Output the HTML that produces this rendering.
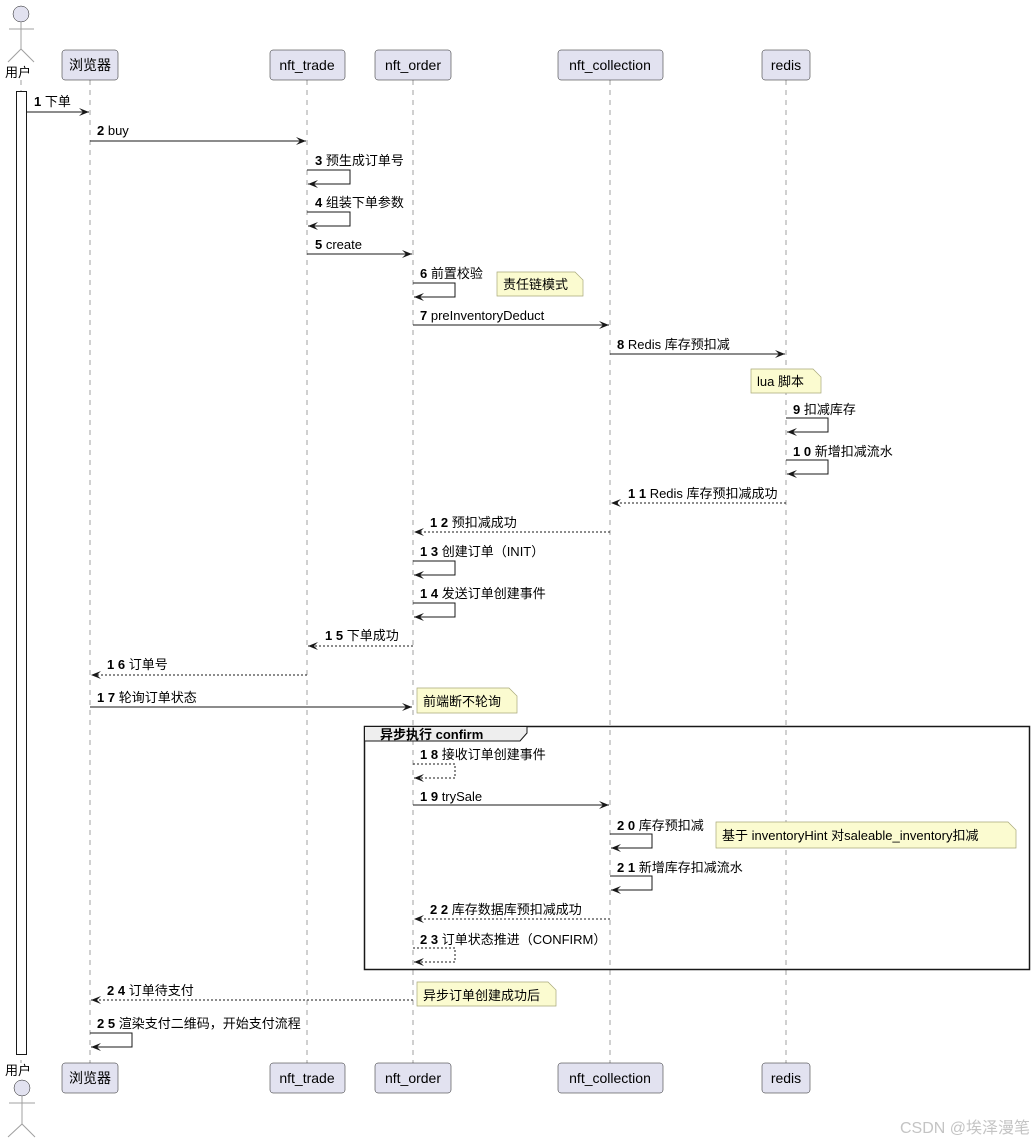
<!DOCTYPE html>
<html><head><meta charset="utf-8"><style>
html,body{margin:0;padding:0;background:#fff;}
svg{display:block;font-family:"Liberation Sans","Noto Sans CJK SC",sans-serif;}
</style></head><body>
<svg width="1036" height="1144" viewBox="0 0 1036 1144" xmlns="http://www.w3.org/2000/svg">
<defs>
<marker id="a" markerUnits="userSpaceOnUse" markerWidth="11" markerHeight="9" refX="10" refY="4" orient="auto"><path d="M0,0 L10,4 L0,8 L4,4 Z" fill="#181818"/></marker>
</defs>
<!-- lifelines -->
<g stroke="#a0a0a0" stroke-dasharray="5,5" stroke-width="1">
<line x1="90" y1="80" x2="90" y2="1063"/>
<line x1="307" y1="80" x2="307" y2="1063"/>
<line x1="413" y1="80" x2="413" y2="1063"/>
<line x1="610" y1="80" x2="610" y2="1063"/>
<line x1="786" y1="80" x2="786" y2="1063"/>
<line x1="21" y1="80" x2="21" y2="1063"/>
</g>
<!-- frame -->
<rect x="364.5" y="726.5" width="665" height="243" fill="none" stroke="#181818" stroke-width="1.5"/>
<path d="M364.5,726.5 H527 V733 L520,741 H364.5 Z" fill="#eee" stroke="#181818" stroke-width="1"/>
<text x="380" y="739" font-size="13" font-weight="bold" fill="#000">异步执行 confirm</text>
<!-- activation -->
<rect x="16.5" y="91.5" width="10" height="963" fill="#fff" stroke="#181818"/>
<!-- actors -->
<g stroke="#a0a0a0" fill="none" stroke-width="1">
<circle cx="21" cy="14" r="8" fill="#e2e2f0" stroke="#181818" stroke-width="0.5"/>
<line x1="21" y1="22" x2="21" y2="49"/><line x1="9" y1="29" x2="34" y2="29"/>
<path d="M8,62 L21,49 L34,62"/>
<circle cx="22" cy="1088" r="8" fill="#e2e2f0" stroke="#181818" stroke-width="0.5"/>
<line x1="22" y1="1096" x2="22" y2="1124"/><line x1="9" y1="1103" x2="35" y2="1103"/>
<path d="M8,1137 L22,1124 L35,1137"/>
</g>
<g font-size="13" fill="#000">
<text x="5" y="77">用户</text>
<text x="5" y="1075">用户</text>
</g>
<!-- participants -->
<g fill="#e2e2f0" stroke="#181818" stroke-width="0.5">
<rect x="62" y="50" width="56" height="30" rx="3"/>
<rect x="270" y="50" width="75" height="30" rx="3"/>
<rect x="375" y="50" width="76" height="30" rx="3"/>
<rect x="558" y="50" width="105" height="30" rx="3"/>
<rect x="762" y="50" width="48" height="30" rx="3"/>
<rect x="62" y="1063" width="56" height="30" rx="3"/>
<rect x="270" y="1063" width="75" height="30" rx="3"/>
<rect x="375" y="1063" width="76" height="30" rx="3"/>
<rect x="558" y="1063" width="105" height="30" rx="3"/>
<rect x="762" y="1063" width="48" height="30" rx="3"/>
</g>
<g font-size="14" fill="#000" text-anchor="middle">
<text x="90" y="70">浏览器</text><text x="307" y="70">nft_trade</text><text x="413" y="70">nft_order</text><text x="610" y="70">nft_collection</text><text x="786" y="70">redis</text>
<text x="90" y="1083">浏览器</text><text x="307" y="1083">nft_trade</text><text x="413" y="1083">nft_order</text><text x="610" y="1083">nft_collection</text><text x="786" y="1083">redis</text>
</g>
<!-- notes -->
<g fill="#fbfbd0" stroke="#a8a87a" stroke-width="0.7">
<path d="M497,272 H575 L583,280 V296 H497 Z"/>
<path d="M751,369 H813 L821,377 V393 H751 Z"/>
<path d="M417,688 H509 L517,696 V713 H417 Z"/>
<path d="M716,822 H1008 L1016,830 V848 H716 Z"/>
<path d="M417,982 H548 L556,990 V1006 H417 Z"/>
</g>
<g font-size="13" fill="#000">
<text x="503" y="289">责任链模式</text>
<text x="757" y="386">lua 脚本</text>
<text x="423" y="706">前端断不轮询</text>
<text x="722" y="840">基于 inventoryHint 对saleable_inventory扣减</text>
<text x="423" y="1000">异步订单创建成功后</text>
</g>
<!-- messages -->
<g stroke="#181818" stroke-width="1" fill="none" marker-end="url(#a)">
<line x1="27" y1="112" x2="89" y2="112"/>
<line x1="90" y1="141" x2="306" y2="141"/>
<path d="M307,170 H350 V184 H308"/>
<path d="M307,212 H350 V226 H308"/>
<line x1="307" y1="254" x2="412" y2="254"/>
<path d="M413,283 H455 V297 H414"/>
<line x1="413" y1="325" x2="609" y2="325"/>
<line x1="610" y1="354" x2="785" y2="354"/>
<path d="M786,418 H828 V432 H787"/>
<path d="M786,460 H828 V474 H787"/>
<line x1="786" y1="503" x2="611" y2="503" stroke-dasharray="2,2"/>
<line x1="610" y1="532" x2="414" y2="532" stroke-dasharray="2,2"/>
<path d="M413,561 H455 V575 H414"/>
<path d="M413,603 H455 V617 H414"/>
<line x1="413" y1="646" x2="308" y2="646" stroke-dasharray="2,2"/>
<line x1="307" y1="675" x2="91" y2="675" stroke-dasharray="2,2"/>
<line x1="90" y1="707" x2="412" y2="707"/>
<path d="M413,764 H455 V778 H414" stroke-dasharray="2,2"/>
<line x1="413" y1="805" x2="609" y2="805"/>
<path d="M610,834 H652 V848 H611"/>
<path d="M610,876 H652 V890 H611"/>
<line x1="610" y1="919" x2="414" y2="919" stroke-dasharray="2,2"/>
<path d="M413,948 H455 V962 H414" stroke-dasharray="2,2"/>
<line x1="413" y1="1000" x2="91" y2="1000" stroke-dasharray="2,2"/>
<path d="M90,1033 H132 V1047 H91"/>
</g>
<g font-size="13" fill="#000">
<text x="34" y="106"><tspan font-weight="bold">1</tspan> 下单</text>
<text x="97" y="135"><tspan font-weight="bold">2</tspan> buy</text>
<text x="315" y="165"><tspan font-weight="bold">3</tspan> 预生成订单号</text>
<text x="315" y="207"><tspan font-weight="bold">4</tspan> 组装下单参数</text>
<text x="315" y="249"><tspan font-weight="bold">5</tspan> create</text>
<text x="420" y="278"><tspan font-weight="bold">6</tspan> 前置校验</text>
<text x="420" y="320"><tspan font-weight="bold">7</tspan> preInventoryDeduct</text>
<text x="617" y="349"><tspan font-weight="bold">8</tspan> Redis 库存预扣减</text>
<text x="793" y="414"><tspan font-weight="bold">9</tspan> 扣减库存</text>
<text x="793" y="456"><tspan font-weight="bold">1 0</tspan> 新增扣减流水</text>
<text x="628" y="498"><tspan font-weight="bold">1 1</tspan> Redis 库存预扣减成功</text>
<text x="430" y="527"><tspan font-weight="bold">1 2</tspan> 预扣减成功</text>
<text x="420" y="556"><tspan font-weight="bold">1 3</tspan> 创建订单（INIT）</text>
<text x="420" y="598"><tspan font-weight="bold">1 4</tspan> 发送订单创建事件</text>
<text x="325" y="640"><tspan font-weight="bold">1 5</tspan> 下单成功</text>
<text x="107" y="669"><tspan font-weight="bold">1 6</tspan> 订单号</text>
<text x="97" y="702"><tspan font-weight="bold">1 7</tspan> 轮询订单状态</text>
<text x="420" y="759"><tspan font-weight="bold">1 8</tspan> 接收订单创建事件</text>
<text x="420" y="801"><tspan font-weight="bold">1 9</tspan> trySale</text>
<text x="617" y="830"><tspan font-weight="bold">2 0</tspan> 库存预扣减</text>
<text x="617" y="872"><tspan font-weight="bold">2 1</tspan> 新增库存扣减流水</text>
<text x="430" y="914"><tspan font-weight="bold">2 2</tspan> 库存数据库预扣减成功</text>
<text x="420" y="944"><tspan font-weight="bold">2 3</tspan> 订单状态推进（CONFIRM）</text>
<text x="107" y="995"><tspan font-weight="bold">2 4</tspan> 订单待支付</text>
<text x="97" y="1028"><tspan font-weight="bold">2 5</tspan> 渲染支付二维码，开始支付流程</text>
</g>
<text x="1030" y="1133" font-size="16" fill="#c4c4c4" text-anchor="end">CSDN @埃泽漫笔</text>
</svg>
</body></html>
